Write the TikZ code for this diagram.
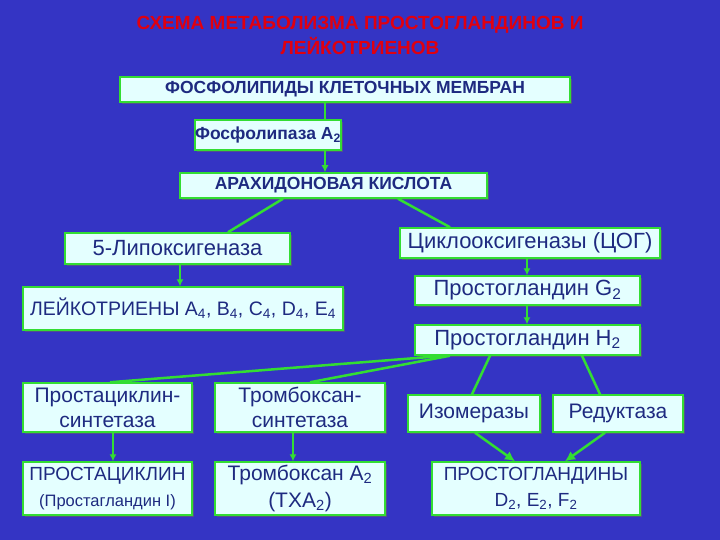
\documentclass[tikz,border=0pt]{standalone}
\usepackage{fontspec}
\setmainfont{Liberation Sans}
\usetikzlibrary{arrows.meta,shadows}
\definecolor{bg}{HTML}{3434C4}
\definecolor{bx}{HTML}{E4FFFF}
\definecolor{gr}{HTML}{33DD33}
\definecolor{tx}{HTML}{1E2A80}
\definecolor{ttl}{HTML}{E00010}
\tikzset{
  bxs/.style={draw=gr,line width=1.5pt,fill=bx,text=tx,align=center,inner sep=0pt,
     drop shadow={shadow xshift=2pt,shadow yshift=-2pt,fill=black!60,opacity=.6}},
  con/.style={draw=gr,line width=1.2pt},
  arr/.style={con,-{Latex[length=7pt,width=7pt]}},
  thick2/.style={draw=gr,line width=2.5pt}
}
\newcommand{\bxat}[6]{\node[bxs,minimum width=#4-#2,minimum height=#5-#3,font=#6] (#1) at ({(#2+#4)/2},{(#3+#5)/2})}
\begin{document}
\begin{tikzpicture}[x=1pt,y=-1pt]
\fill[bg] (0,0) rectangle (720,540);
\useasboundingbox (0,0) rectangle (720,540);
\node[text=ttl,font=\bfseries\fontsize{19}{25}\selectfont,align=center] (title) at (360,35) {СХЕМА МЕТАБОЛИЗМА ПРОСТОГЛАНДИНОВ И\\ЛЕЙКОТРИЕНОВ};
\bxat{b1}{120}{77}{570}{102}{\bfseries\fontsize{17.5}{20}\selectfont}{ФОСФОЛИПИДЫ КЛЕТОЧНЫХ МЕМБРАН};
\bxat{b2}{210}{120}{326}{150}{\bfseries\fontsize{17.5}{20}\selectfont}{Фосфолипаза А\textsubscript{2}};
\bxat{b3}{180}{173}{487}{198}{\bfseries\fontsize{17.5}{20}\selectfont}{АРАХИДОНОВАЯ КИСЛОТА};
\bxat{b4}{65}{233}{290}{264}{\fontsize{22}{24}\selectfont}{5-Липоксигеназа};
\bxat{b5}{400}{228}{660}{258}{\fontsize{22}{24}\selectfont}{Циклооксигеназы (ЦОГ)};
\bxat{b6}{23}{287}{343}{330}{\fontsize{19.5}{22}\selectfont}{ЛЕЙКОТРИЕНЫ А\textsubscript{4}, В\textsubscript{4}, С\textsubscript{4}, D\textsubscript{4}, Е\textsubscript{4}};
\bxat{b7}{415}{276}{640}{305}{\fontsize{22}{24}\selectfont}{Простогландин G\textsubscript{2}};
\bxat{b8}{415}{325}{640}{355}{\fontsize{22}{24}\selectfont}{Простогландин Н\textsubscript{2}};
\bxat{b9}{23}{383}{192}{432}{\fontsize{21}{25}\selectfont}{Простациклин-\\синтетаза};
\bxat{b10}{215}{383}{385}{432}{\fontsize{21}{25}\selectfont}{Тромбоксан-\\синтетаза};
\bxat{b11}{408}{395}{540}{432}{\fontsize{21}{24}\selectfont}{Изомеразы};
\bxat{b12}{553}{395}{683}{432}{\fontsize{21}{24}\selectfont}{Редуктаза};
\bxat{b13}{23}{462}{192}{515}{\fontsize{19}{26}\selectfont}{ПРОСТАЦИКЛИН\\{\fontsize{16.5}{24}\selectfont(Простагландин I)}};
\bxat{b14}{215}{462}{385}{515}{\fontsize{21}{27}\selectfont}{Тромбоксан А\textsubscript{2}\\(ТХА\textsubscript{2})};
\bxat{b15}{432}{462}{640}{515}{\fontsize{19}{26}\selectfont}{ПРОСТОГЛАНДИНЫ\\D\textsubscript{2}, Е\textsubscript{2}, F\textsubscript{2}};
\draw[con] (b1.south -| 325,0) -- (b2.north -| 325,0);
\draw[arr] (b2.south -| 325,0) -- (b3.north -| 325,0);
\draw[thick2] (b3.south -| 283,0) -- (b4.north -| 228,0);
\draw[thick2] (b3.south -| 398,0) -- (b5.north -| 450,0);
\draw[arr] (b4.south -| 180,0) -- (b6.north -| 180,0);
\draw[arr] (b5.south -| 527,0) -- (b7.north -| 527,0);
\draw[arr] (b7.south -| 527,0) -- (b8.north -| 527,0);
\draw[thick2] (b8.south -| 445,0) -- (b9.north -| 110,0);
\draw[thick2] (b8.south -| 450,0) -- (b10.north -| 310,0);
\draw[thick2] (b8.south -| 490,0) -- (b11.north -| 472,0);
\draw[thick2] (b8.south -| 582,0) -- (b12.north -| 600,0);
\draw[thick2,-{Latex[length=10pt,width=10pt]}] (b11.south -| 475,0) -- (b15.north -| 515,0);
\draw[thick2,-{Latex[length=10pt,width=10pt]}] (b12.south -| 605,0) -- (b15.north -| 565,0);
\draw[arr] (b9.south -| 113,0) -- (b13.north -| 113,0);
\draw[arr] (b10.south -| 293,0) -- (b14.north -| 293,0);
\end{tikzpicture}
\end{document}
